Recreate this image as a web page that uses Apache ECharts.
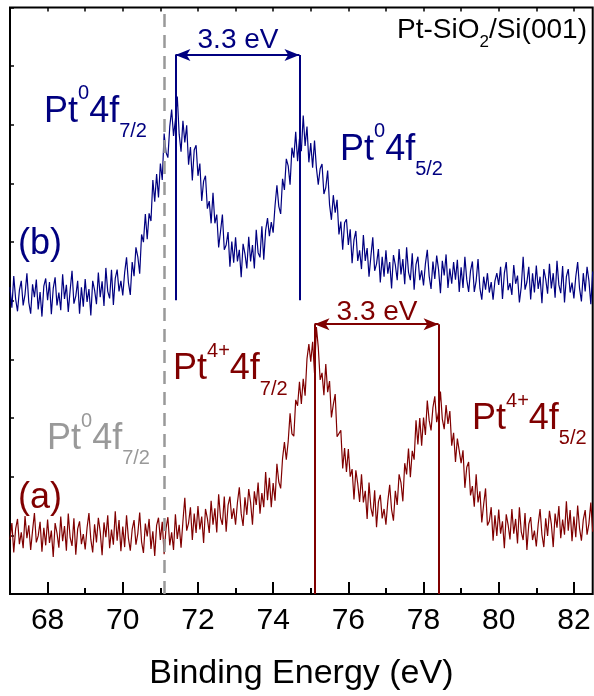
<!DOCTYPE html>
<html><head><meta charset="utf-8">
<script src="https://cdn.jsdelivr.net/npm/echarts@6/dist/echarts.min.js"></script>
<style>html,body{margin:0;padding:0;background:#fff}#c{width:594px;height:696px}</style>
</head><body><div id="c"></div>
<script>
// ---- data ----
const energyStart = 67.0;   // eV, first sample
const energyStep = 0.05;    // eV, sampling step
// spectrum (b) intensity, arb. units
const spectrumB = [
523,488,542,503,482,518,534,492,511,547,497,478,528,506,536,485,515,473,525,538,
501,532,477,521,540,492,514,484,545,503,527,481,518,551,495,508,534,478,523,490,
537,498,520,475,534,518,494,548,506,533,491,556,516,504,553,493,538,553,516,534,
509,548,574,531,510,566,542,591,575,546,613,600,648,605,649,636,706,669,716,676,
734,706,785,753,744,797,826,781,809,848,784,754,807,770,799,732,762,705,757,765,
713,734,670,704,713,657,670,632,684,632,647,591,618,647,587,595,617,558,601,565,
608,567,587,540,597,580,555,609,567,595,555,621,582,574,627,570,620,641,610,634,
616,662,697,661,648,708,689,742,730,698,761,744,788,738,776,755,816,764,797,736,
769,727,773,727,698,725,733,682,693,722,664,638,680,650,672,613,635,587,633,639,
595,622,564,604,619,568,586,554,612,568,590,541,576,608,551,563,588,531,575,541,
586,546,566,521,578,561,535,588,545,571,528,591,549,535,581,519,562,575,535,552,
526,563,587,542,520,567,537,577,553,513,568,543,579,522,555,529,566,536,570,515,
557,522,575,536,515,551,567,515,534,571,521,502,541,519,547,514,532,502,534,547,
527,558,503,547,566,518,530,510,561,529,543,497,524,575,519,532,558,502,547,514,
560,520,541,496,554,537,512,563,521,547,505,568,527,513,559,497,541,554,514,531,
504,541,566,521,499,547,516,558,534,494,550
];
// spectrum (a) intensity, arb. units
const spectrumA = [
93,121,71,111,128,85,105,78,133,95,117,75,108,138,88,99,123,72,113,83,
127,87,108,63,121,104,79,132,90,116,74,137,96,82,129,67,111,124,85,102,
76,113,138,93,71,119,88,130,106,66,122,97,134,78,110,84,141,91,126,73,
115,80,134,95,74,110,126,84,103,139,89,70,120,98,128,77,107,65,117,130,
92,123,68,112,131,83,105,75,136,94,118,79,124,164,108,121,148,92,137,104,
150,110,132,87,145,129,104,159,118,146,105,170,130,118,166,106,151,166,128,146,
118,156,182,137,116,165,135,179,156,118,175,152,190,137,172,148,208,160,198,148,
189,159,222,191,180,231,259,229,260,308,273,269,331,321,362,324,367,338,401,426,
396,430,377,455,421,365,377,339,392,344,363,301,323,341,268,265,279,214,249,208,
247,200,213,161,211,188,157,204,156,176,128,190,147,132,177,114,157,169,129,145,
118,158,186,144,125,176,152,204,190,158,223,204,248,199,244,229,296,255,300,253,
301,271,330,296,279,318,337,293,310,345,298,281,322,290,312,253,275,225,265,267,
223,245,181,216,225,168,184,149,204,156,175,122,153,180,117,124,148,91,134,99,
144,103,124,78,136,118,93,145,103,128,86,148,106,92,138,75,119,131,92,108,
81,119,145,101,80,129,99,142,119,80,137,113,150,95,127,101,158,108,143,90,
132,97,151,112,91,127,143,101,120,156,106
];
const xMajorTicks = [68,70,72,74,76,78,80,82];
const xMinorTicks = [69,71,73,75,77,79,81];
const xTopTicks = [67,68,69,70,71,72,73,74,75,76,77,78,79,80,81,82];
const peaksB = [71.4, 74.7];     // Pt0 4f7/2, 4f5/2
const peaksA = [75.1, 78.4];     // Pt4+ 4f7/2, 4f5/2
const bracketB = [501, 919];     // vertical extent of (b) markers
const bracketA = [0, 460];       // vertical extent of (a) markers
const metalRef = 71.1;           // Pt0 4f7/2 reference (dashed)

// ---- style ----
const BLUE = '#000080', RED = '#800000', GRAY = '#999999';
const FONT = '"Liberation Sans", Arial, Helvetica, sans-serif';

const toPairs = vals => vals.map((v, i) => [+(energyStart + i * energyStep).toFixed(3), v]);

const mctx = document.createElement('canvas').getContext('2d');
function tw(t, s) { mctx.font = s + 'px ' + FONT; return mctx.measureText(t).width; }
function label(x, base, color, parts, align) {
  const total = parts.reduce((a, p) => a + tw(p[0], p[1]), 0);
  let cx = align === 'center' ? x - total / 2 : x;
  const els = [];
  for (const [t, s, dy] of parts) {
    els.push({
      type: 'text', x: cx, y: base + (dy || 0) - 0.3465 * s, silent: true,
      style: { text: t, fill: color, fontSize: s, fontFamily: FONT,
        align: 'left', verticalAlign: 'middle', textAlign: 'left', textVerticalAlign: 'middle' }
    });
    cx += tw(t, s);
  }
  return els;
}
const graphics = [].concat(
  label(44, 125, BLUE, [['Pt',36],['0',20,-25],['4f',36],['7/2',20,13]]),
  label(340, 163, BLUE, [['Pt',36],['0',20,-25],['4f',36],['5/2',20,13]]),
  label(47, 452, GRAY, [['Pt',36],['0',20,-24],['4f',36],['7/2',20,13]]),
  label(173, 382, RED, [['Pt',36],['4+',20,-24],['4f',36],['7/2',20,14]]),
  label(472, 432, RED, [['Pt',36],['4+',20,-24],['4f',36],['5/2',20,13]]),
  label(18, 257, BLUE, [['(b)',36]]),
  label(18, 511, RED, [['(a)',36]]),
  label(397, 40, '#000', [['Pt-SiO',28],['2',17,8],['/Si(001)',28]]),
  label(238, 50, BLUE, [['3.3 eV',28]], 'center'),
  label(377, 322, RED, [['3.3 eV',28]], 'center')
);

function bracket(peaks, lo, hi, color) {
  return {
    silent: true, animation: false, label: { show: false },
    symbol: ['none', 'none'], symbolSize: [9, 15],
    lineStyle: { color: color, width: 2, type: 'solid', opacity: 1 },
    emphasis: { disabled: true },
    data: [
      [{ coord: [peaks[0], lo] }, { coord: [peaks[0], hi] }],
      [{ coord: [peaks[1], lo] }, { coord: [peaks[1], hi] }],
      [{ coord: [peaks[0], hi], symbol: 'arrow' }, { coord: [peaks[1], hi], symbol: 'arrow' }]
    ]
  };
}

const mlB = bracket(peaksB, bracketB[0], bracketB[1], BLUE);
mlB.data.push({ xAxis: metalRef, symbol: 'none', lineStyle: { color: GRAY, width: 2.5, type: [13, 8] } });

const common = { min: 67, max: 82.5, type: 'value', splitLine: { show: false }, axisLine: { show: false } };
const option = {
  animation: false,
  grid: { left: 10, right: 1.3, top: 7.5, bottom: 96.5, show: true, borderColor: '#000', borderWidth: 2, backgroundColor: 'transparent' },
  xAxis: [
    Object.assign({}, common, {
      position: 'bottom',
      name: 'Binding Energy (eV)', nameLocation: 'middle', nameGap: 63,
      nameTextStyle: { fontSize: 34, fontFamily: FONT, color: '#000' },
      axisTick: { show: true, inside: true, length: 12, customValues: xMajorTicks, lineStyle: { color: '#000', width: 2 } },
      axisLabel: { show: true, customValues: xMajorTicks, fontSize: 30, fontFamily: FONT, color: '#000', margin: 12 }
    }),
    Object.assign({}, common, {
      position: 'bottom',
      axisTick: { show: true, inside: true, length: 6, customValues: xMinorTicks, lineStyle: { color: '#000', width: 2 } },
      axisLabel: { show: false }
    }),
    Object.assign({}, common, {
      position: 'top',
      axisTick: { show: true, inside: true, length: 4, customValues: xTopTicks, lineStyle: { color: '#000', width: 1.5 } },
      axisLabel: { show: false }
    })
  ],
  yAxis: {
    type: 'value', min: 0, max: 1000, interval: 100,
    splitLine: { show: false }, axisLine: { show: false }, axisLabel: { show: false },
    axisTick: { show: true, inside: true, length: 4, lineStyle: { color: '#000', width: 1.5 } }
  },
  series: [
    { type: 'line', name: '(b)', xAxisIndex: 0, data: toPairs(spectrumB), showSymbol: false, symbol: 'none',
      lineStyle: { color: BLUE, width: 1.2 }, itemStyle: { color: BLUE }, markLine: mlB, z: 3 },
    { type: 'line', name: '(a)', xAxisIndex: 0, data: toPairs(spectrumA), showSymbol: false, symbol: 'none',
      lineStyle: { color: RED, width: 1.2 }, itemStyle: { color: RED }, markLine: bracket(peaksA, bracketA[0], bracketA[1], RED), z: 3 }
  ],
  graphic: graphics
};
const chart = echarts.init(document.getElementById('c'), null, { renderer: 'canvas' });
chart.setOption(option);
</script></body></html>
